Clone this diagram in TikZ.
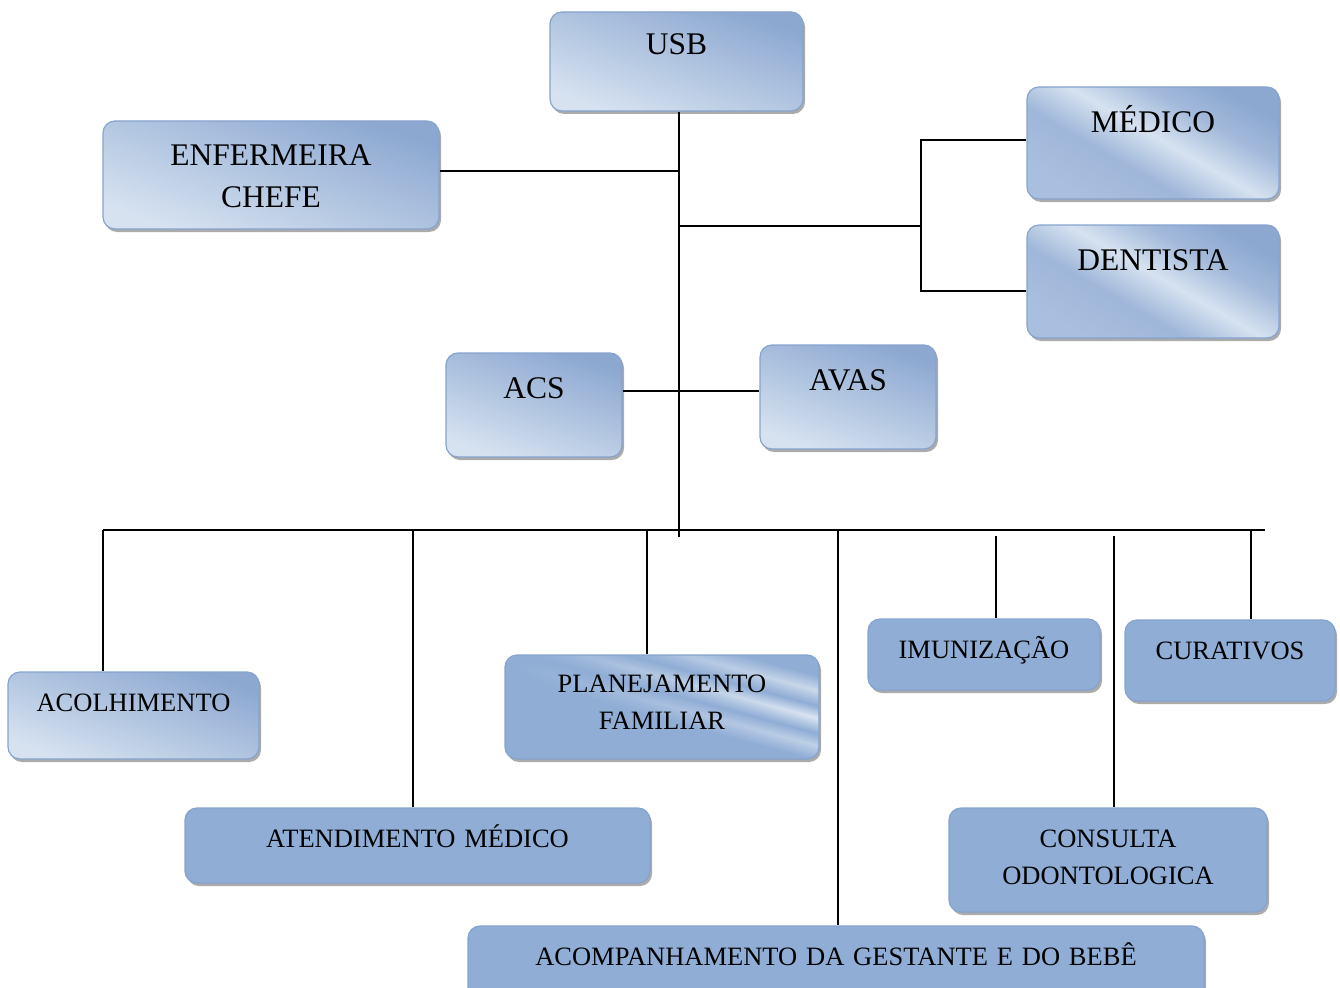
\documentclass[tikz,border=0pt]{standalone}
\usepackage{fontspec}
\setmainfont{Liberation Serif}
\usetikzlibrary{shadows,fadings}
\definecolor{claro}{HTML}{D6E2F0}
\definecolor{escuro}{HTML}{8CA8D1}
\definecolor{medio}{HTML}{A9BFDF}
\definecolor{liso}{HTML}{8FADD5}
\definecolor{borda}{HTML}{86A3CE}
\pgfdeclareverticalshading{brilho}{100bp}{color(0bp)=(medio); color(25bp)=(medio); color(40bp)=(escuro!75!claro); color(52bp)=(claro); color(64bp)=(escuro!70!claro); color(75bp)=(escuro); color(100bp)=(escuro)}
\pgfdeclareverticalshading{faixas}{100bp}{color(0bp)=(liso); color(46bp)=(liso); color(51bp)=(white!45!liso); color(55bp)=(liso); color(60bp)=(white!70!liso); color(64bp)=(liso); color(69bp)=(white!55!liso); color(74bp)=(liso); color(100bp)=(liso)}
\tikzfading[name=esmaece, left color=transparent!100, right color=transparent!0]
\tikzstyle{caixa} = [draw=borda, line width=1.2pt, rounded corners=12pt, inner sep=0pt, align=center,
  drop shadow={shadow xshift=2pt, shadow yshift=-3pt, fill=black!55, opacity=0.6}]
\tikzstyle{degrade} = [caixa, top color=escuro, bottom color=claro, shading angle=-20]
\tikzstyle{reflexo} = [caixa, shading=brilho, shading angle=-30]
\tikzstyle{lisa} = [caixa, fill=liso]
\tikzstyle{grande} = [font=\fontsize{31.5}{42}\selectfont]
\tikzstyle{pequena} = [font=\fontsize{26.5}{37}\selectfont]
\tikzstyle{linha} = [line width=1.6pt]

\begin{document}
\begin{tikzpicture}[x=1pt, y=-1pt]
	\useasboundingbox (0,0) rectangle (1340,987);
	% topo
	\node[degrade, grande, text width=253pt, minimum height=99pt,
		text height=0pt, text depth=14pt] (usb) at (676.5,61.5) {USB};
	\node[degrade, grande, text width=336pt, minimum height=108pt,
		text height=0pt, text depth=19pt] (enf) at (271,175) {ENFERMEIRA\\CHEFE};
	\node[reflexo, grande, text width=252pt, minimum height=112pt,
		text height=0pt, text depth=21pt] (med) at (1153,143) {MÉDICO};
	\node[reflexo, grande, text width=252pt, minimum height=113pt,
		text height=0pt, text depth=22pt] (dent) at (1153,281.5) {DENTISTA};
	\node[degrade, grande, text width=176pt, minimum height=104pt,
		text height=0pt, text depth=13pt] (acs) at (534,405) {ACS};
	\node[degrade, grande, text width=176pt, minimum height=104pt,
		text height=0pt, text depth=13pt] (avas) at (848,397) {AVAS};
	% servicos
	\node[degrade, pequena, text width=251pt, minimum height=87pt,
		text height=0pt, text depth=8pt] (acol) at (133.5,715.5) {ACOLHIMENTO};
	\node[lisa, pequena, text width=314pt, minimum height=104pt,
		text height=0pt, text depth=29pt,
		path picture={\fill[sharp corners, shading=faixas, shading angle=-15,
			path fading=esmaece, fit fading=true]
			(path picture bounding box.north west)
			rectangle (path picture bounding box.south east);}]
		(plan) at (662,707) {PLANEJAMENTO\\FAMILIAR};
	\node[lisa, pequena, text width=232pt, minimum height=71pt,
		text height=7pt, text depth=0pt] (imun) at (984,654.5) {IMUNIZAÇÃO};
	\node[lisa, pequena, text width=210pt, minimum height=81pt,
		text height=0pt, text depth=3pt] (cura) at (1230,660.5) {CURATIVOS};
	\node[lisa, pequena, text width=465pt, minimum height=75pt,
		text height=3pt, text depth=0pt] (ate) at (417.5,845.5) {ATENDIMENTO MÉDICO};
	\node[lisa, pequena, text width=318pt, minimum height=104pt,
		text height=0pt, text depth=26pt] (cons) at (1108,860) {CONSULTA\\ODONTOLOGICA};
	\node[lisa, pequena, text width=736pt, minimum height=75pt,
		text height=3pt, text depth=0pt] (acomp) at (836,963.5) {ACOMPANHAMENTO DA GESTANTE E DO BEBÊ};
	% ligacoes
	\coordinate (tronco) at (679,537);
	\coordinate (garfo) at (921,226);
	\coordinate (barraE) at (103,530);
	\coordinate (barraD) at (1265,530);
	\draw[linha] (usb.south -| tronco) -- (tronco);
	\draw[linha] ([yshift=4pt]enf.east) -- ([yshift=4pt]enf.east -| tronco);
	\draw[linha] (garfo -| tronco) -- (garfo);
	\draw[linha] ([yshift=3pt]med.west) -| (garfo) |- ([yshift=-9.5pt]dent.west);
	\draw[linha] ([yshift=14pt]acs.east) -- ([yshift=6pt]avas.west);
	\draw[linha] (barraE) -- (barraD);
	\foreach \n/\x in {acol/103, ate/413, plan/647, acomp/838, cura/1251}
		\draw[linha] (\x,530) -- (\n.north -| \x,0);
	\foreach \n/\x in {imun/996, cons/1114}
		\draw[linha] (\x,536) -- (\n.north -| \x,0);
\end{tikzpicture}
\end{document}
